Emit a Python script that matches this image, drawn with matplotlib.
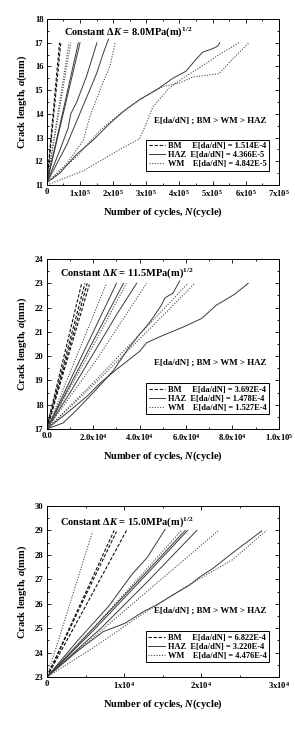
import matplotlib
matplotlib.use("Agg")
import matplotlib.pyplot as plt
from matplotlib.lines import Line2D
from matplotlib.ticker import MultipleLocator, FixedLocator

plt.rcParams['font.family'] = ['Liberation Serif', 'DejaVu Serif']
plt.rcParams['font.weight'] = 'bold'
plt.rcParams['mathtext.fontset'] = 'custom'
plt.rcParams['mathtext.rm'] = 'Liberation Serif:bold'
plt.rcParams['mathtext.bf'] = 'Liberation Serif:bold'
plt.rcParams['mathtext.it'] = 'Liberation Serif:bold:italic'

# ---------------- Panel 1 data (N in units of 1e5 cycles, a in mm) -------------
p1_titles = "Constant $\\it{\\Delta K}$ = 8.0MPa(m)$^{1/2}$"
p1_xticklabels = ["0", "1x10$^5$", "2x10$^5$", "3x10$^5$", "4x10$^5$", "5x10$^5$", "6x10$^5$", "7x10$^5$"]
p1_legend_vals = ["1.514E-4", "4.366E-5", "4.842E-5"]
p1_bm = [
    ([0, 0.38], [11.1, 17.0]),
    ([0, 0.42], [11.05, 17.0]),
]
p1_haz = [
    ([0, 0.95], [11.1, 17.0]),
    ([0, 1.0], [11.1, 17.0]),
    ([0, 0.4, 0.64, 0.72, 0.9, 1.2, 1.51], [11.1, 12.5, 13.4, 14.0, 14.5, 15.6, 17.0]),
    ([0, 0.3, 0.6, 0.9, 1.2, 1.5, 1.7, 1.86], [11.1, 11.9, 12.7, 13.7, 14.7, 15.7, 16.55, 17.15]),
    ([0, 0.39, 0.9, 1.4, 1.9, 2.35, 2.8, 3.4, 3.8, 4.2, 4.5, 4.7, 5.0, 5.15, 5.22],
     [11.1, 11.5, 12.3, 12.9, 13.6, 14.15, 14.6, 15.1, 15.5, 15.8, 16.3, 16.6, 16.75, 16.85, 17.0]),
]
p1_wm = [
    ([0, 0.67], [11.1, 17.0]),
    ([0, 0.72], [11.1, 17.0]),
    ([0, 0.6, 1.1, 1.3, 1.6, 1.9, 2.06], [11.1, 11.9, 12.9, 13.9, 15.0, 16.0, 17.0]),
    ([0, 0.9, 1.6, 2.2, 2.8, 3.5, 4.0, 4.4, 5.2, 5.6, 6.1],
     [11.1, 12.2, 13.3, 14.0, 14.6, 15.15, 15.3, 15.55, 15.7, 16.3, 17.0]),
    ([0, 1.1, 2.2, 2.8, 3.0, 3.2, 3.7, 4.1, 4.5, 5.2, 5.8],
     [11.0, 11.6, 12.5, 12.95, 13.6, 14.3, 15.1, 15.5, 15.85, 16.5, 17.0]),
]

# ---------------- Panel 2 data (N in units of 1e4 cycles) -------------
p2_titles = "Constant $\\it{\\Delta K}$ = 11.5MPa(m)$^{1/2}$"
p2_xticklabels = ["0.0", "2.0x10$^4$", "4.0x10$^4$", "6.0x10$^4$", "8.0x10$^4$", "1.0x10$^5$"]
p2_legend_vals = ["3.692E-4", "1.478E-4", "1.527E-4"]
p2_bm = [
    ([0, 1.5], [17.1, 23.0]),
    ([0, 1.64], [17.05, 23.0]),
    ([0, 1.74], [17.0, 23.0]),
    ([0, 1.83], [17.0, 22.95]),
]
p2_haz = [
    ([0, 1.5, 3.0], [17.0, 20.0, 23.0]),
    ([0, 1.6, 3.3], [17.0, 19.9, 23.0]),
    ([0, 1.0, 2.0, 3.0, 3.87], [17.0, 18.5, 20.1, 21.7, 23.0]),
    ([0, 0.7, 1.3, 2.0, 2.86, 3.5, 4.0, 4.44, 4.94, 5.09, 5.44, 5.73],
     [17.0, 17.25, 17.8, 18.5, 19.4, 20.3, 20.9, 21.4, 22.1, 22.4, 22.6, 23.1]),
    ([0, 0.85, 1.71, 2.28, 3.0, 4.0, 4.3, 4.87, 5.88, 6.67, 7.31, 8.1, 8.68],
     [17.0, 17.65, 18.33, 18.88, 19.45, 20.2, 20.55, 20.8, 21.2, 21.55, 22.1, 22.55, 23.0]),
]
p2_wm = [
    ([0, 2.57], [17.0, 23.0]),
    ([0, 1.7, 3.43], [17.0, 19.9, 23.0]),
    ([0, 2.1, 4.3], [17.0, 19.8, 23.0]),
    ([0, 2.0, 4.0, 6.09], [17.0, 18.9, 20.9, 23.0]),
    ([0, 2.1, 4.2, 6.38], [17.0, 18.9, 20.9, 23.0]),
]

# ---------------- Panel 3 data (N in units of 1e4 cycles) -------------
p3_titles = "Constant $\\it{\\Delta K}$ = 15.0MPa(m)$^{1/2}$"
p3_xticklabels = ["0", "1x10$^4$", "2x10$^4$", "3x10$^4$"]
p3_legend_vals = ["6.822E-4", "3.220E-4", "4.476E-4"]
p3_bm = [
    ([0, 0.45, 0.87], [23.0, 26.1, 29.0]),
    ([0, 0.45, 0.9], [23.0, 26.0, 28.95]),
    ([0, 0.5, 1.03], [23.0, 25.9, 29.0]),
]
p3_haz = [
    ([0, 0.4, 0.8, 1.1, 1.3, 1.53], [23.0, 24.5, 25.9, 27.2, 27.9, 29.05]),
    ([0, 0.6, 1.2, 1.79], [23.0, 25.0, 27.0, 29.0]),
    ([0, 0.6, 1.2, 1.82], [23.0, 24.9, 26.9, 29.0]),
    ([0, 0.7, 1.3, 1.94], [23.0, 25.0, 26.9, 29.0]),
    ([0, 0.41, 0.73, 1.01, 1.25, 1.42, 1.63, 1.85, 1.98, 2.15, 2.41, 2.78],
     [23.0, 24.1, 24.86, 25.2, 25.68, 25.95, 26.36, 26.77, 27.1, 27.45, 28.1, 28.98]),
]
p3_wm = [
    ([0, 0.59], [23.0, 28.95]),
    ([0, 0.6, 1.2, 1.74], [23.0, 25.0, 27.1, 29.0]),
    ([0, 2.22], [23.0, 29.0]),
    ([0, 0.6, 1.2, 1.8, 2.4, 2.84], [23.0, 24.2, 25.5, 26.7, 27.8, 29.0]),
]

panels = [
    dict(bm=p1_bm, haz=p1_haz, wm=p1_wm, title=p1_titles, xt=p1_xticklabels, leg=p1_legend_vals,
         scale=1e5, xmax=7e5, xmajor=1e5, xminor=0.5e5, ylim=(11, 18),
         pos=[0.159, 0.7462, 0.786, 0.2277], ty=0.92, tx=0.073),
    dict(bm=p2_bm, haz=p2_haz, wm=p2_wm, title=p2_titles, xt=p2_xticklabels, leg=p2_legend_vals,
         scale=1e4, xmax=1e5, xmajor=2e4, xminor=1e4, ylim=(17, 24),
         pos=[0.159, 0.4115, 0.786, 0.2332], ty=0.918, tx=0.057),
    dict(bm=p3_bm, haz=p3_haz, wm=p3_wm, title=p3_titles, xt=p3_xticklabels, leg=p3_legend_vals,
         scale=1e4, xmax=3e4, xmajor=1e4, xminor=0.5e4, ylim=(23, 30),
         pos=[0.159, 0.0713, 0.786, 0.2346], ty=0.906, tx=0.057),
]

fig = plt.figure(figsize=(2.95, 7.29), dpi=100)
sty = dict(bm=dict(ls=(0, (3, 1.6)), lw=0.8, color='#111111'),
           haz=dict(ls='-', lw=0.7, color='#3a3a3a'),
           wm=dict(ls=(0, (1, 1.4)), lw=0.8, color='#4a4a4a'))

for p in panels:
    ax = fig.add_axes(p['pos'])
    for key in ('bm', 'haz', 'wm'):
        for xs, ys in p[key]:
            ax.plot([x * p['scale'] for x in xs], ys, **sty[key])
    ax.set_xlim(0, p['xmax'])
    ax.set_ylim(*p['ylim'])
    n = len(p['xt'])
    ax.xaxis.set_major_locator(FixedLocator([i * p['xmajor'] for i in range(n)]))
    ax.set_xticklabels(p['xt'])
    ax.xaxis.set_minor_locator(MultipleLocator(p['xminor']))
    ax.yaxis.set_major_locator(MultipleLocator(1))
    ax.yaxis.set_minor_locator(MultipleLocator(0.5))
    ax.tick_params(which='both', direction='in', top=True, right=True, width=0.6)
    ax.tick_params(which='major', length=3, labelsize=6.2, pad=2.5)
    ax.tick_params(which='minor', length=1.6)
    for s in ax.spines.values():
        s.set_linewidth(0.7)
    ax.set_ylabel("Crack length, $\\it{a}$(mm)", fontsize=7.5, fontweight='bold', labelpad=4)
    ax.set_xlabel("Number of cycles, $\\it{N}$(cycle)", fontsize=7.5, fontweight='bold', labelpad=4)
    ax.text(p['tx'], p['ty'], p['title'], transform=ax.transAxes, fontsize=7.5,
            fontweight='bold', ha='left', va='center')
    ax.text(0.705, 0.39, "E[da/dN] ; BM > WM > HAZ", transform=ax.transAxes, fontsize=6.4,
            fontweight='bold', ha='center', va='center')
    handles = [Line2D([], [], **sty['bm']), Line2D([], [], **sty['haz']), Line2D([], [], **sty['wm'])]
    labels = ["BM     E[da/dN] = " + p['leg'][0],
              "HAZ  E[da/dN] = " + p['leg'][1],
              "WM    E[da/dN] = " + p['leg'][2]]
    leg = ax.legend(handles, labels, loc='lower right', bbox_to_anchor=(0.958, 0.087),
                    fontsize=6.0, frameon=True, fancybox=False, framealpha=1,
                    edgecolor='black', handlelength=2.0, handletextpad=0.3,
                    labelspacing=0.12, borderpad=0.3, borderaxespad=0)
    leg.get_frame().set_linewidth(0.7)
    for t in leg.get_texts():
        t.set_fontweight('bold')

fig.savefig("out.png", dpi=100)
